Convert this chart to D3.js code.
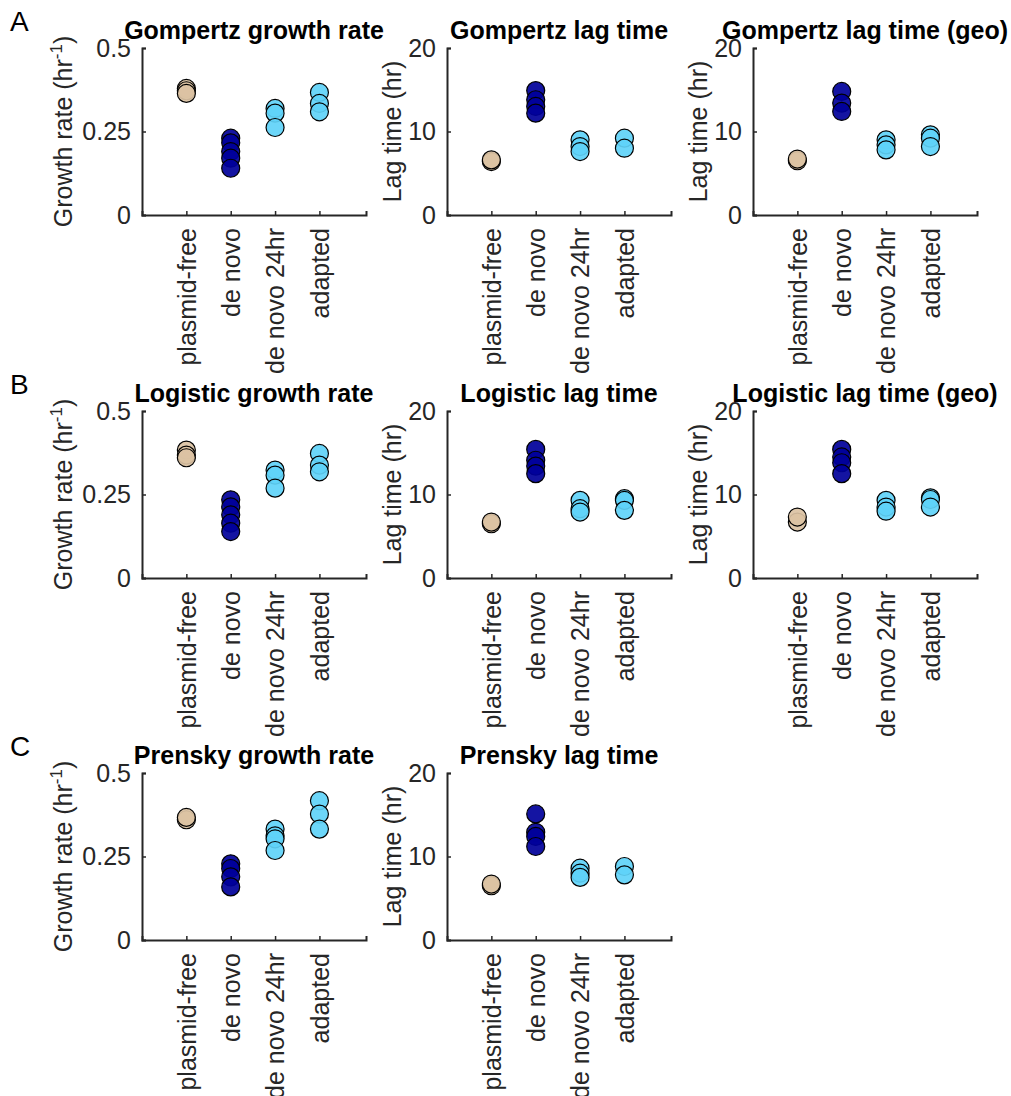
<!DOCTYPE html>
<html>
<head>
<meta charset="UTF-8">
<script src="https://d3js.org/d3.v7.min.js"></script>
<style>
  body { margin: 0; background: #fff; }
  text { font-family: "Liberation Sans", Arial, Helvetica, sans-serif; }
</style>
</head>
<body>
<div class="canvas"></div>
<script>
  const width = 1011;
  const height = 1096;

  // categories on the x axis
  const categories = ["plasmid-free", "de novo", "de novo 24hr", "adapted"];
  const colors = ["#dbc2a3", "#00009a", "#5fd2f8"];
  const catColor = [0, 1, 2, 2];

  // values per category (replicates)
  const gompertzRate = [[0.379, 0.372, 0.364], [0.23, 0.216, 0.19, 0.17, 0.14], [0.319, 0.305, 0.262], [0.367, 0.334, 0.309]];
  const gompertzLag = [[6.4, 6.6], [14.9, 13.8, 13.0, 12.2], [9.0, 8.2, 7.6], [9.2, 8.0]];
  const gompertzLagGeo = [[6.5, 6.7], [14.8, 13.4, 12.4], [9.0, 8.4, 7.8], [9.6, 9.2, 8.2]];
  const logisticRate = [[0.383, 0.368, 0.36], [0.234, 0.213, 0.189, 0.164, 0.139], [0.323, 0.308, 0.269], [0.373, 0.338, 0.318]];
  const logisticLag = [[6.5, 6.7], [15.4, 14.1, 13.4, 12.5], [9.3, 8.3, 7.9], [9.5, 9.3, 8.1]];
  const logisticLagGeo = [[6.7, 7.3], [15.4, 14.5, 13.8, 12.5], [9.3, 8.5, 8.0], [9.6, 9.4, 8.5]];
  const prenskyRate = [[0.36, 0.367], [0.228, 0.214, 0.189, 0.159], [0.332, 0.312, 0.303, 0.268], [0.417, 0.377, 0.332]];
  const prenskyLag = [[6.5, 6.7], [15.1, 12.9, 12.4, 11.2], [8.6, 8.0, 7.5], [8.8, 7.8]];

  const rateTicks = [0, 0.25, 0.5];
  const lagTicks = [0, 10, 20];

  const panels = [
    { row: 0, col: 0, title: "Gompertz growth rate", data: gompertzRate, kind: "rate" },
    { row: 0, col: 1, title: "Gompertz lag time", data: gompertzLag, kind: "lag" },
    { row: 0, col: 2, title: "Gompertz lag time (geo)", data: gompertzLagGeo, kind: "lag" },
    { row: 1, col: 0, title: "Logistic growth rate", data: logisticRate, kind: "rate" },
    { row: 1, col: 1, title: "Logistic lag time", data: logisticLag, kind: "lag" },
    { row: 1, col: 2, title: "Logistic lag time (geo)", data: logisticLagGeo, kind: "lag" },
    { row: 2, col: 0, title: "Prensky growth rate", data: prenskyRate, kind: "rate" },
    { row: 2, col: 1, title: "Prensky lag time", data: prenskyLag, kind: "lag" }
  ];
  const rowLetters = ["A", "B", "C"];

  const rowTop = [48, 411, 773];
  const colLeft = [142, 447, 753];
  const pw = 224, ph = 167;
  const axisColor = "#262626";
  const fs = 25;

  const svg = d3.select('.canvas')
    .append('svg')
    .attr('width', width)
    .attr('height', height);

  rowLetters.forEach((l, i) => {
    svg.append('text')
      .attr('x', 10)
      .attr('y', rowTop[i] - 17)
      .attr('font-size', 28)
      .attr('fill', '#000')
      .text(l);
  });

  panels.forEach(p => {
    const g = svg.append('g')
      .attr('transform', `translate(${colLeft[p.col]}, ${rowTop[p.row]})`);

    const x = d3.scaleLinear().domain([0, 5.05]).range([0, pw]);
    const ticks = p.kind === "rate" ? rateTicks : lagTicks;
    const y = d3.scaleLinear().domain([ticks[0], ticks[ticks.length - 1]]).range([ph, 0]);

    // x axis
    const xAxis = d3.axisBottom(x)
      .tickValues([1, 2, 3, 4])
      .tickSize(-4)
      .tickFormat(d => categories[d - 1]);
    const xg = g.append('g')
      .attr('transform', `translate(0, ${ph})`)
      .call(xAxis);
    xg.select('.domain').attr('stroke', axisColor).attr('stroke-width', 2);
    xg.selectAll('.tick line').attr('stroke', axisColor).attr('stroke-width', 1.5);
    xg.selectAll('.tick text')
      .attr('font-size', fs)
      .attr('font-family', '"Liberation Sans", Arial, sans-serif')
      .attr('fill', axisColor)
      .attr('text-anchor', 'end')
      .attr('transform', 'rotate(-90)')
      .attr('x', -13)
      .attr('y', 0)
      .attr('dy', '0.35em');

    // y axis
    const yAxis = d3.axisLeft(y)
      .tickValues(ticks)
      .tickSize(-4)
      .tickPadding(11)
      .tickFormat(d => String(d));
    const yg = g.append('g').call(yAxis);
    yg.select('.domain').attr('stroke', axisColor).attr('stroke-width', 2);
    yg.selectAll('.tick line').attr('stroke', axisColor).attr('stroke-width', 1.5);
    yg.selectAll('.tick text')
      .attr('font-size', fs)
      .attr('font-family', '"Liberation Sans", Arial, sans-serif')
      .attr('fill', axisColor);

    // title
    g.append('text')
      .attr('x', pw / 2)
      .attr('y', -9)
      .attr('text-anchor', 'middle')
      .attr('font-size', fs)
      .attr('font-weight', 'bold')
      .attr('fill', '#000')
      .text(p.title);

    // y label
    const lx = p.kind === "rate" ? -70 : -46;
    const yl = g.append('text')
      .attr('transform', `translate(${lx}, ${ph / 2}) rotate(-90)`)
      .attr('text-anchor', 'middle')
      .attr('font-size', fs)
      .attr('fill', axisColor);
    if (p.kind === "rate") {
      yl.append('tspan').text('Growth rate (hr');
      yl.append('tspan').attr('dy', -10).attr('font-size', 17).text('-1');
      yl.append('tspan').attr('dy', 10).text(')');
    } else {
      yl.text('Lag time (hr)');
    }

    // points
    const pts = [];
    p.data.forEach((vals, i) => vals.forEach(v => pts.push({ c: i, v: v })));
    g.selectAll('.pt')
      .data(pts)
      .enter()
      .append('circle')
      .attr('class', 'pt')
      .attr('cx', d => x(d.c + 1))
      .attr('cy', d => y(d.v))
      .attr('r', 9)
      .attr('fill', d => colors[catColor[d.c]])
      .attr('fill-opacity', 0.92)
      .attr('stroke', '#000')
      .attr('stroke-width', 1.2);
  });
</script>
</body>
</html>
